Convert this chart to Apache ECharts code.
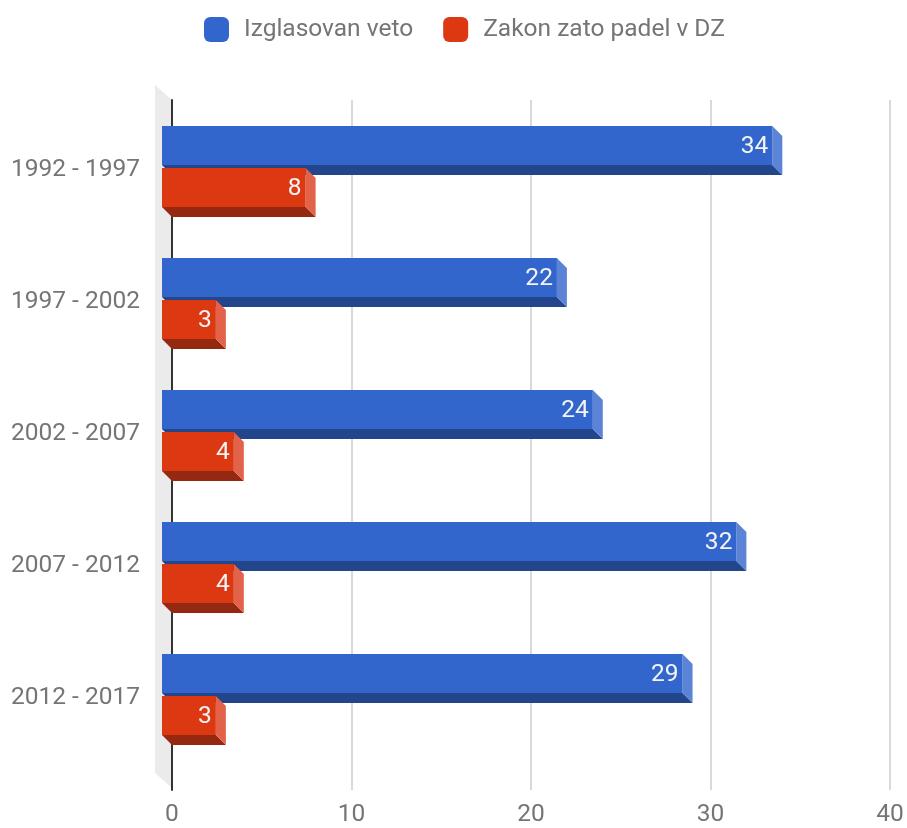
<!DOCTYPE html>
<html lang="sl">
<head>
    <meta charset="UTF-8">
    <title>Veto</title>
    <script src="https://cdn.jsdelivr.net/npm/echarts@6.0.0/dist/echarts.min.js"></script>
    <style>
        html,body{margin:0;height:100%;background:#fff;}
        #main{width:907px;height:828px;}
    </style>
</head>
<body>
<div id="main"></div>
<script>
    // podatki
    var categories = ['1992 - 1997', '1997 - 2002', '2002 - 2007', '2007 - 2012', '2012 - 2017'];
    var vetoValues = [34, 22, 24, 32, 29];
    var zakonValues = [8, 3, 4, 4, 3];
    var seriesNames = ['Izglasovan veto', 'Zakon zato padel v DZ'];
    var xMin = 0, xMax = 40, xStep = 10;

    var colors = {
        blue: {front: '#3366cc', bottom: '#23458c', side: '#5b84d6'},
        red: {front: '#dc3912', bottom: '#952810', side: '#e3624a'}
    };
    var depth = 10;
    var font = 'Roboto, "Noto Sans", sans-serif';
    var fs = 24.5;

    // 3D stolpec: top/bottom sta odmika od sredine pasu (delež pasu)
    function bar3d(pal, topK, botK) {
        return function (params, api) {
            var v = api.value(0), i = api.value(1);
            var p0 = api.coord([0, i]);
            var p1 = api.coord([v, i]);
            var band = api.size([0, 1])[1];
            var c = p0[1];
            var top = c + band * topK, bottom = c + band * botK;
            var x0 = p0[0] - depth, x1 = p1[0] - depth;
            return {
                type: 'group',
                children: [
                    {type: 'polygon', shape: {points: [[x0, bottom], [x1, bottom], [x1 + depth, bottom + depth], [x0 + depth, bottom + depth]]}, style: {fill: pal.bottom}},
                    {type: 'polygon', shape: {points: [[x1, top], [x1 + depth, top + depth], [x1 + depth, bottom + depth], [x1, bottom]]}, style: {fill: pal.side}},
                    {type: 'rect', shape: {x: x0, y: top, width: x1 - x0, height: bottom - top}, style: {fill: pal.front}},
                    {type: 'text', style: {x: x1 - 4, y: (top + bottom) / 2 + 1, text: String(v), fill: '#f4f4f4', align: 'right', verticalAlign: 'middle', font: fs + 'px ' + font}}
                ]
            };
        };
    }

    var myChart = echarts.init(document.getElementById('main'));
    var option = {
        animation: false,
        textStyle: {fontFamily: font},
        legend: {
            top: 12,
            left: 199,
            itemWidth: 25,
            itemHeight: 25,
            itemGap: 30,
            icon: 'roundRect',
            textStyle: {color: '#757575', fontSize: fs, padding: [0, 0, 0, 10]},
            data: [
                {name: seriesNames[0], itemStyle: {color: colors.blue.front}},
                {name: seriesNames[1], itemStyle: {color: colors.red.front}}
            ]
        },
        grid: [
            {left: 172, right: 17, top: 100, bottom: 38},
            {left: 172, right: 17, top: 104, height: 660}
        ],
        xAxis: [
            {
                gridIndex: 0, type: 'value', min: xMin, max: xMax, interval: xStep,
                axisLine: {show: false}, axisTick: {show: false},
                axisLabel: {color: '#757575', fontSize: fs, margin: 12},
                splitLine: {lineStyle: {color: '#cccccc', width: 1.5}}
            },
            {
                gridIndex: 1, type: 'value', min: xMin, max: xMax, show: false
            }
        ],
        yAxis: [
            {
                gridIndex: 0, type: 'value', min: 0, max: 1,
                axisLine: {show: true, lineStyle: {color: '#333333', width: 2}},
                axisTick: {show: false}, axisLabel: {show: false}, splitLine: {show: false}
            },
            {
                gridIndex: 1, type: 'category', inverse: true, data: categories,
                axisLine: {show: false}, axisTick: {show: false},
                axisLabel: {color: '#757575', fontSize: fs, margin: 32}
            }
        ],
        series: [
            {
                // levi "zid"
                type: 'custom', xAxisIndex: 0, yAxisIndex: 0, z: -1, silent: true,
                data: [[0, 0]],
                renderItem: function (params, api) {
                    var t = api.coord([0, 1]), b = api.coord([0, 0]);
                    return {
                        type: 'polygon',
                        shape: {points: [[t[0] - 17, t[1] - 15], [t[0], t[1]], [b[0], b[1] - 2], [b[0] - 17, b[1] - 17]]},
                        style: {fill: '#ebebeb'}
                    };
                }
            },
            {
                name: seriesNames[0], type: 'custom', xAxisIndex: 1, yAxisIndex: 1,
                itemStyle: {color: colors.blue.front},
                data: vetoValues.map(function (v, i) { return [v, i]; }),
                renderItem: bar3d(colors.blue, -44 / 132, -5 / 132)
            },
            {
                name: seriesNames[1], type: 'custom', xAxisIndex: 1, yAxisIndex: 1,
                itemStyle: {color: colors.red.front},
                data: zakonValues.map(function (v, i) { return [v, i]; }),
                renderItem: bar3d(colors.red, -2 / 132, 37 / 132)
            }
        ]
    };
    myChart.setOption(option);
</script>
</body>
</html>
